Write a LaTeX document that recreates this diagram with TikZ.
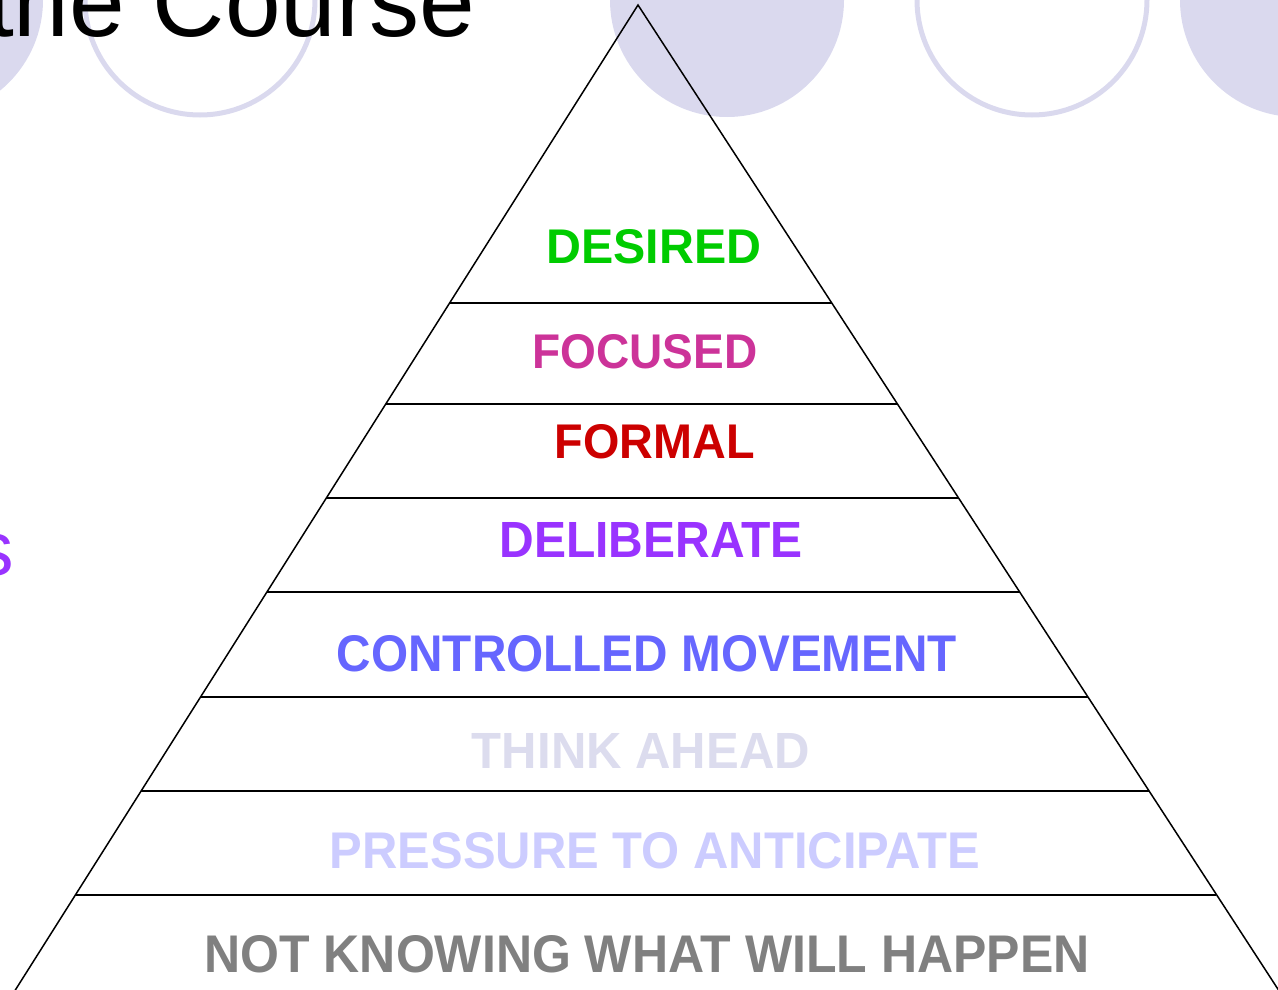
\documentclass[tikz,border=0pt]{standalone}
\usepackage{fontspec}
\setmainfont{Liberation Sans}
\usepackage{graphicx}
\usetikzlibrary{calc}

\definecolor{deco}{HTML}{DAD9EE}
\definecolor{desired}{HTML}{00CC00}
\definecolor{focused}{HTML}{CC3399}
\definecolor{formal}{HTML}{CC0000}
\definecolor{deliberate}{HTML}{9933FF}
\definecolor{controlled}{HTML}{6666FF}
\definecolor{think}{HTML}{DCDCEE}
\definecolor{pressure}{HTML}{CCCCFF}
\definecolor{unknown}{HTML}{808080}

\tikzset{tier/.style={inner sep=0pt, font=\bfseries}}

\begin{document}
\begin{tikzpicture}[x=1pt,y=-1pt]

    \useasboundingbox (0,0) rectangle (1278,990);
    \clip (0,0) rectangle (1278,990);

    % Draw the circles
    \fill[deco] (-74,0) circle (117pt);
    \draw[deco, line width=5pt] (200,0) circle (115pt);
    \fill[deco] (727,0) circle (117pt);
    \draw[deco, line width=5pt] (1032,0) circle (115pt);
    \fill[deco] (1297,0) circle (117pt);

    % Add the title
    \node[font=\fontsize{100}{102}\selectfont, anchor=base west, inner sep=0pt] (title) at (-14,37) {the Course};
    \node[font=\fontsize{77}{80}\selectfont, text=deliberate, anchor=base east, inner sep=0pt] (word) at (14,575) {s};

    % Draw the pyramid
    \coordinate (apex) at (638,5);
    \coordinate (left) at (9,1000);
    \coordinate (right) at (1285,1000);
    \draw[line width=1.5pt] (left) -- (apex) -- (right);

    % Draw the layers
    \foreach \y in {303.5,404,498,592,697.5,790.5,894.5}
        \draw[line width=2pt] ($(apex)!{(\y-5)/995}!(left)$) -- ($(apex)!{(\y-5)/995}!(right)$);

    % Add the labels
    \node[tier, text=desired] (desired) at (654,247) {\resizebox{215pt}{34pt}{DESIRED}};
    \node[tier, text=focused] (focused) at (645,351.5) {\resizebox{225pt}{34pt}{FOCUSED}};
    \node[tier, text=formal] (formal) at (655,441.5) {\resizebox{200pt}{34pt}{FORMAL}};
    \node[tier, text=deliberate] (deliberate) at (651,540) {\resizebox{303pt}{35pt}{DELIBERATE}};
    \node[tier, text=controlled] (controlled) at (647,654) {\resizebox{620pt}{36pt}{CONTROLLED MOVEMENT}};
    \node[tier, text=think] (think) at (641,751) {\resizebox{338pt}{35pt}{THINK AHEAD}};
    \node[tier, text=pressure] (pressure) at (655,851) {\resizebox{650pt}{36pt}{PRESSURE TO ANTICIPATE}};
    \node[tier, text=unknown] (unknown) at (647,954) {\resizebox{885pt}{37pt}{NOT KNOWING WHAT WILL HAPPEN}};

\end{tikzpicture}
\end{document}
